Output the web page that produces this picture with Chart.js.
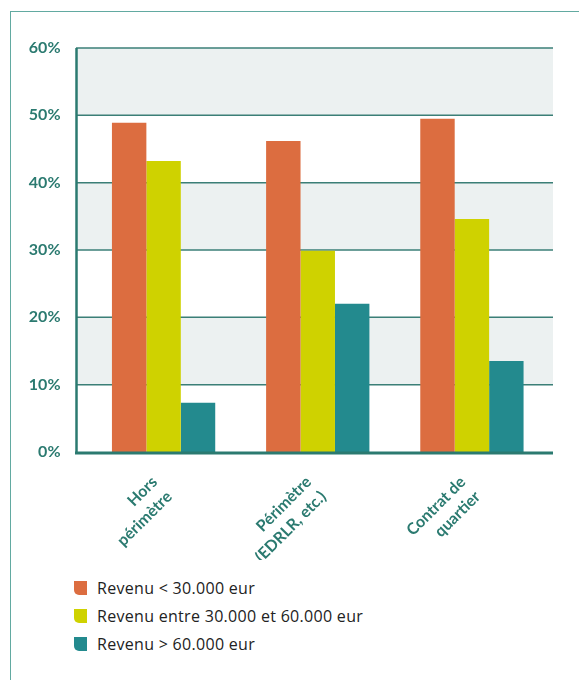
<!DOCTYPE html>
<html>
<head>
<meta charset="utf-8">
<script src="https://cdn.jsdelivr.net/npm/chart.js@4.4.1/dist/chart.umd.min.js"></script>
<style>
  body { margin: 0; background: #fff; width: 579px; height: 680px; overflow: hidden; position: relative; }
  #frame { position: absolute; left: 10px; top: 11px; width: 600px; height: 700px;
           border-left: 1.5px solid #62aaa1; border-top: 1.5px solid #62aaa1; }
  #wrap { position: absolute; left: 0; top: 0; width: 579px; height: 560px; }
  #legend { position: absolute; left: 74px; top: 574px; font-family: "Open Sans", sans-serif; font-size: 16px;
            letter-spacing: 0.3px; color: #222; }
  .item { height: 28px; display: flex; align-items: center; }
  .box { width: 13px; height: 14px; margin-right: 10px; border-radius: 0 0 0 5px; }
</style>
</head>
<body>
<div id="frame"></div>
<div id="wrap"><canvas id="myChart"></canvas></div>
<div id="legend"></div>
<script>
const categories = [["Hors", "périmètre"], ["Périmètre", "(EDRLR, etc.)"], ["Contrat de", "quartier"]];
const seriesNames = ["Revenu < 30.000 eur", "Revenu entre 30.000 et 60.000 eur", "Revenu > 60.000 eur"];
const low = [48.9, 46.2, 49.5];
const mid = [43.2, 29.9, 34.6];
const high = [7.3, 22.0, 13.5];
const yTicks = [0, 10, 20, 30, 40, 50, 60];
const colors = ["#dc6d40", "#cfd200", "#238a8e"];
const teal = "#2b7a70";

// bandes grises + lignes de grille, sous les barres
const bands = {
  id: "bands",
  beforeDatasetsDraw(chart) {
    const ctx = chart.ctx;
    const y = chart.scales.y;
    const left = 76, right = 553;
    ctx.save();
    for (let i = 0; i < yTicks.length - 1; i++) {
      if (i % 2 == 1) {
        ctx.fillStyle = "#ecf1f1";
        const t = y.getPixelForValue(yTicks[i + 1]);
        const b = y.getPixelForValue(yTicks[i]);
        ctx.fillRect(left, t, right - left, b - t);
      }
    }
    ctx.strokeStyle = "#3b7f77";
    ctx.lineWidth = 1.5;
    yTicks.forEach(v => {
      if (v == 0) return;
      const p = y.getPixelForValue(v);
      ctx.beginPath();
      ctx.moveTo(left, p);
      ctx.lineTo(right, p);
      ctx.stroke();
    });
    ctx.restore();
  },
  afterDatasetsDraw(chart) {
    const ctx = chart.ctx;
    const y = chart.scales.y;
    ctx.save();
    ctx.strokeStyle = teal;
    ctx.lineWidth = 2.5;
    ctx.beginPath();
    ctx.moveTo(76.5, y.getPixelForValue(60));
    ctx.lineTo(76.5, y.getPixelForValue(0) + 1.5);
    ctx.stroke();
    ctx.lineWidth = 3;
    ctx.beginPath();
    ctx.moveTo(75, y.getPixelForValue(0) + 1);
    ctx.lineTo(553, y.getPixelForValue(0) + 1);
    ctx.stroke();
    ctx.restore();
  }
};

const myChart = new Chart("myChart", {
  type: "bar",
  data: {
    labels: categories,
    datasets: [
      { label: seriesNames[0], data: low, backgroundColor: colors[0] },
      { label: seriesNames[1], data: mid, backgroundColor: colors[1] },
      { label: seriesNames[2], data: high, backgroundColor: colors[2] },
    ],
  },
  options: {
    responsive: true,
    maintainAspectRatio: false,
    animation: false,
    layout: { padding: { top: 48, right: 30, left: 0, bottom: 0 } },
    datasets: { bar: { categoryPercentage: 0.67, barPercentage: 1.0 } },
    plugins: { legend: { display: false }, tooltip: { enabled: false } },
    scales: {
      x: {
        grid: { display: false },
        border: { display: false },
        ticks: {
          color: teal, minRotation: 45, maxRotation: 45, padding: 12, labelOffset: -9,
          font: { family: "Lato", size: 16, weight: "bold", lineHeight: 1.3 },
        },
        afterFit(s) { s.height = 108; },
      },
      y: {
        min: 0, max: 60,
        grid: { display: false },
        border: { display: false },
        ticks: {
          stepSize: 10, color: teal, padding: 18,
          font: { family: "Lato", size: 16, weight: "bold" },
          callback: v => v + "%",
        },
        afterFit(s) { s.width = 86.5; },
      },
    },
  },
  plugins: [bands],
});

// légende en liste
const leg = document.getElementById("legend");
seriesNames.forEach((n, i) => {
  const d = document.createElement("div");
  d.className = "item";
  d.innerHTML = '<span class="box" style="background:' + colors[i] + '"></span><span></span>';
  d.lastChild.textContent = n;
  leg.appendChild(d);
});
</script>
</body>
</html>
